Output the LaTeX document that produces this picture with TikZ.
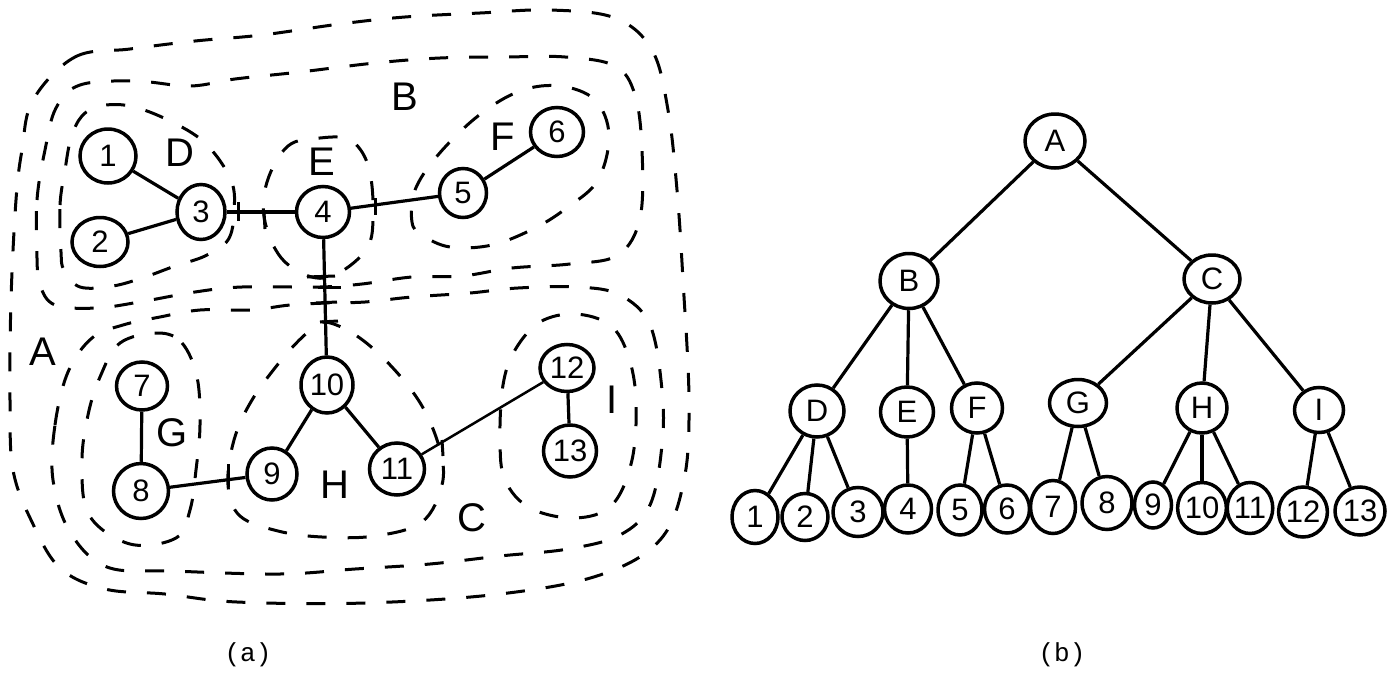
\documentclass[tikz,border=0pt]{standalone}
\usepackage{fontspec}
\setmainfont{Liberation Sans}
\newfontfamily\capfont{Liberation Mono}
\usetikzlibrary{shapes.geometric}
\tikzset{
  vtx/.style 2 args={draw, ellipse, line width=3.5pt, fill=white, inner sep=0pt,
    minimum width=#1, minimum height=#2, font=\fontsize{31}{31}\selectfont},
  edge/.style={line width=3.2pt},
  tick/.style={line width=3pt},
  region/.style={line width=3pt, dash pattern=on 19pt off 21pt},
  rlabel/.style={font=\fontsize{40}{40}\selectfont, inner sep=0pt},
  caption/.style={font=\capfont\fontsize{26}{26}\selectfont, inner sep=0pt},
}
\begin{document}
\begin{tikzpicture}[x=1pt, y=-1pt]
\useasboundingbox (0,0) rectangle (1392,672);

% ---------- (a): the graph with its nested regions ----------
% region A (outermost)
\draw[region] plot[smooth cycle, tension=0.6] coordinates {
  (33,100) (75,57) (130,49) (195,41) (262,35) (340,24) (405,17) (480,13)
  (550,10) (615,18) (652,50) (668,110) (677,190) (683,280) (689,400)
  (684,480) (660,540) (600,575) (500,594) (365,603) (237,602) (165,594)
  (105,589) (60,568) (32,522) (13,470) (10,400) (11,300) (16,200) (22,150)};
% region B
\draw[region] plot[smooth cycle, tension=0.6] coordinates {
  (37,258) (37,200) (45,150) (56,108) (80,85) (135,81) (190,86) (235,79)
  (300,72) (375,63) (440,58) (505,57) (565,57) (615,66) (635,95) (642,150)
  (640,218) (618,255) (570,264) (512,268) (462,276) (412,277) (362,284)
  (320,287) (242,287) (195,292) (145,301) (97,308) (55,305) (40,285)};
% region C
\draw[region] plot[smooth cycle, tension=0.6] coordinates {
  (53,480) (55,425) (68,372) (92,338) (123,325) (160,317) (200,310)
  (250,310) (290,305) (327,303) (365,302) (412,297) (470,293) (518,288)
  (578,287) (620,295) (650,325) (662,390) (662,445) (650,505) (620,535)
  (568,549) (500,556) (430,564) (355,569) (280,574) (173,571) (107,567)
  (70,532)};
% region D
\draw[region] plot[smooth cycle, tension=0.6] coordinates {
  (61,252) (60,205) (65,170) (71,138) (82,116) (100,106) (130,106)
  (168,120) (205,143) (231,180) (234,212) (228,240) (205,256) (175,266)
  (145,277) (113,286) (80,287) (64,270)};
% region E
\draw[region] plot[smooth cycle, tension=0.6] coordinates {
  (325,278) (285,262) (265,222) (267,182) (288,146) (320,138) (350,140)
  (368,165) (373,210) (366,250)};
% region F
\draw[region] plot[smooth cycle, tension=0.6] coordinates {
  (412,222) (415,190) (438,155) (478,116) (520,91) (560,86) (595,100)
  (609,135) (598,180) (568,207) (535,228) (492,245) (450,247) (422,235)};
% region G
\draw[region] plot[smooth cycle, tension=0.6] coordinates {
  (158,333) (182,343) (197,377) (200,425) (196,470) (190,510) (176,538)
  (130,544) (89,515) (82,462) (88,415) (100,377) (120,343)};
% region H
\draw[region] plot[smooth cycle, tension=0.6] coordinates {
  (325,322) (357,336) (392,367) (422,406) (440,450) (442,485) (422,522)
  (375,536) (322,537) (278,531) (240,516) (228,485) (234,440) (252,400)
  (283,358) (308,332)};
% region I
\draw[region] plot[smooth cycle, tension=0.6] coordinates {
  (503,385) (515,350) (540,322) (575,314) (610,325) (628,355) (636,400)
  (632,460) (612,505) (575,518) (530,508) (505,480) (500,440)};

% region names
\node[rlabel] (labB) at (405,97) {B};
\node[rlabel] (labD) at (180,153) {D};
\node[rlabel] (labE) at (322,162) {E};
\node[rlabel] (labF) at (503,137) {F};
\node[rlabel] (labA) at (43,352) {A};
\node[rlabel] (labG) at (172,433) {G};
\node[rlabel] (labH) at (335,485) {H};
\node[rlabel] (labC) at (472,518) {C};
\node[rlabel] (labI) at (612,400) {I};

% vertices
\node[vtx={56pt}{54pt}] (n1) at (108,156) {1};
\node[vtx={56pt}{49pt}] (n2) at (100,242) {2};
\node[vtx={48pt}{55pt}] (n3) at (201,212) {3};
\node[vtx={53pt}{51pt}] (n4) at (323,212) {4};
\node[vtx={47pt}{49pt}] (n5) at (463,193) {5};
\node[vtx={53pt}{49pt}] (n6) at (557,132) {6};
\node[vtx={51pt}{48pt}] (n7) at (142,386) {7};
\node[vtx={55pt}{55pt}] (n8) at (141,491) {8};
\node[vtx={50pt}{52pt}] (n9) at (272,474) {9};
\node[vtx={52pt}{56pt}] (n10) at (327,385) {10};
\node[vtx={55pt}{52pt}] (n11) at (397,469) {11};
\node[vtx={54pt}{47pt}] (n12) at (567,368) {12};
\node[vtx={53pt}{52pt}] (n13) at (570,451) {13};

% edges
\draw[edge] (n1) -- (n3);
\draw[edge] (n2) -- (n3);
\draw[edge] (n3) -- (n4);
\draw[edge] (n4) -- (n5);
\draw[edge] (n5) -- (n6);
\draw[edge] (n4) -- (n10);
\draw[edge] (n7) -- (n8);
\draw[edge] (n8) -- (n9);
\draw[edge] (n10) -- (n9);
\draw[edge] (n10) -- (n11);
\draw[edge, line width=2.5pt] (n11) -- (n12);
\draw[edge] (n12) -- (n13);

% marks where edges leave or enter a region
\draw[tick] (238,202) -- (238,221);
\draw[tick] (264,212) -- (265,229);
\draw[tick] (375,198) -- (375,215);
\draw[tick] (307,277) -- (335,276);
\draw[tick] (318,287) -- (341,287);
\draw[tick] (316,303) -- (337,302);
\draw[tick] (320,322) -- (338,321);
\draw[tick] (228,464) -- (228,487);
\draw[tick] (442,440) -- (443,456);

\node[caption] (capa) at (248,655) {(a)};

% ---------- (b): the region tree ----------
\node[vtx={60pt}{54pt}] (tA) at (1055,141) {A};
\node[vtx={58pt}{55pt}] (tB) at (909,281) {B};
\node[vtx={56pt}{48pt}] (tC) at (1212,279) {C};
\node[vtx={54pt}{52pt}] (tD) at (817,411) {D};
\node[vtx={53pt}{50pt}] (tE) at (907,412) {E};
\node[vtx={51pt}{50pt}] (tF) at (977,408) {F};
\node[vtx={57pt}{47pt}] (tG) at (1078,403) {G};
\node[vtx={50pt}{50pt}] (tH) at (1202,408) {H};
\node[vtx={49pt}{45pt}] (tI) at (1319,410) {I};

\node[vtx={46pt}{53pt}] (l1) at (755,517) {1};
\node[vtx={46pt}{47pt}] (l2) at (805,517) {2};
\node[vtx={50pt}{49pt}] (l3) at (858,512) {3};
\node[vtx={47pt}{48pt}] (l4) at (908,509) {4};
\node[vtx={44pt}{50pt}] (l5) at (960,510) {5};
\node[vtx={45pt}{48pt}] (l6) at (1007,509) {6};
\node[vtx={45pt}{53pt}] (l7) at (1053,507) {7};
\node[vtx={50pt}{53pt}] (l8) at (1107,503) {8};
\node[vtx={37pt}{46pt}] (l9) at (1153,505) {9};
\node[vtx={44pt}{51pt}] (l10) at (1202,508) {10};
\node[vtx={43pt}{51pt}] (l11) at (1250,508) {11};
\node[vtx={47pt}{50pt}] (l12) at (1303,512) {12};
\node[vtx={50pt}{48pt}] (l13) at (1360,511) {13};

\draw[edge] (tA) -- (tB);
\draw[edge] (tA) -- (tC);
\draw[edge] (tB) -- (tD);
\draw[edge] (tB) -- (tE);
\draw[edge] (tB) -- (tF);
\draw[edge] (tC) -- (tG);
\draw[edge] (tC) -- (tH);
\draw[edge] (tC) -- (tI);
\draw[edge] (tD) -- (l1);
\draw[edge] (tD) -- (l2);
\draw[edge] (tD) -- (l3);
\draw[edge] (tE) -- (l4);
\draw[edge] (tF) -- (l5);
\draw[edge] (tF) -- (l6);
\draw[edge] (tG) -- (l7);
\draw[edge] (tG) -- (l8);
\draw[edge] (tH) -- (l9);
\draw[edge] (tH) -- (l10);
\draw[edge] (tH) -- (l11);
\draw[edge] (tI) -- (l12);
\draw[edge] (tI) -- (l13);

\node[caption] (capb) at (1062,655) {(b)};
\end{tikzpicture}
\end{document}
